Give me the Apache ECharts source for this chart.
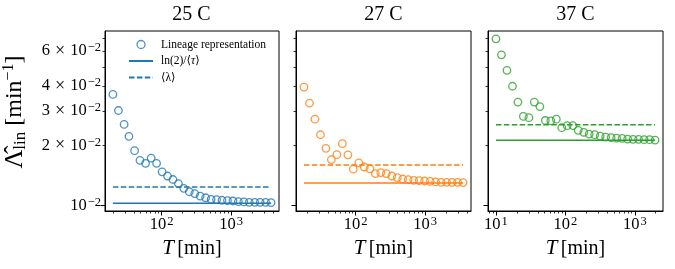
<!DOCTYPE html>
<html><head><meta charset="utf-8">
<script src="https://cdn.jsdelivr.net/npm/echarts@6/dist/echarts.min.js"></script>
<style>html,body{margin:0;padding:0;background:#fff}#c{width:675px;height:269px}</style>
</head><body><div id="c"></div>
<script>
// ---------- data ----------
const panelTitles = ['25 C', '27 C', '37 C'];
const T25 = [20, 24, 29, 34, 41, 49, 59, 71, 85, 102, 122, 146, 175, 209, 251, 301, 360, 431, 517, 619, 742, 889, 1065, 1276, 1528, 1830, 2193, 2627, 3147, 3770];
const L25 = [3.63e-2, 3.01e-2, 2.56e-2, 2.23e-2, 1.887e-2, 1.686e-2, 1.628e-2, 1.730e-2, 1.628e-2, 1.475e-2, 1.405e-2, 1.349e-2, 1.287e-2, 1.218e-2, 1.170e-2, 1.146e-2, 1.113e-2, 1.091e-2, 1.072e-2, 1.068e-2, 1.060e-2, 1.056e-2, 1.051e-2, 1.044e-2, 1.039e-2, 1.035e-2, 1.035e-2, 1.035e-2, 1.035e-2, 1.032e-2];
const T27 = [18, 21.6, 25.9, 31.1, 37.3, 44.7, 53.6, 64.3, 77.2, 92.5, 111, 133, 160, 192, 230, 276, 331, 397, 476, 571, 684, 821, 985, 1181, 1417, 1699, 2038, 2445, 2933, 3518];
const L27 = [3.95e-2, 3.28e-2, 2.72e-2, 2.27e-2, 1.938e-2, 1.70e-2, 1.80e-2, 2.047e-2, 1.797e-2, 1.522e-2, 1.638e-2, 1.560e-2, 1.528e-2, 1.445e-2, 1.462e-2, 1.445e-2, 1.405e-2, 1.380e-2, 1.357e-2, 1.348e-2, 1.337e-2, 1.332e-2, 1.326e-2, 1.321e-2, 1.311e-2, 1.306e-2, 1.306e-2, 1.306e-2, 1.306e-2, 1.302e-2];
const T37 = [10, 12, 14.4, 17.3, 20.7, 24.8, 29.8, 35.7, 42.9, 51.4, 61.7, 74, 88.7, 106, 128, 153, 184, 220, 264, 317, 380, 456, 547, 656, 787, 944, 1132, 1358, 1629, 1954];
const L37 = [6.93e-2, 5.75e-2, 4.80e-2, 3.99e-2, 3.32e-2, 2.81e-2, 2.77e-2, 3.32e-2, 3.15e-2, 2.68e-2, 2.67e-2, 2.72e-2, 2.465e-2, 2.523e-2, 2.525e-2, 2.389e-2, 2.334e-2, 2.289e-2, 2.273e-2, 2.236e-2, 2.210e-2, 2.195e-2, 2.185e-2, 2.177e-2, 2.160e-2, 2.152e-2, 2.152e-2, 2.145e-2, 2.145e-2, 2.135e-2];
const tauLine = [1.023e-2, 1.296e-2, 2.127e-2];     // ln(2)/<tau>
const lambdaLine = [1.237e-2, 1.597e-2, 2.553e-2];  // <lambda>
const seriesNames = ['Lineage representation', 'ln(2)/⟨τ⟩', '⟨λ⟩'];
const xMajorTicks = [10, 100, 1000];
const xMinorTicks = [2, 3, 4, 5, 6, 7, 8, 9, 20, 30, 40, 50, 60, 70, 80, 90, 200, 300, 400, 500, 600, 700, 800, 900, 2000, 3000, 4000, 5000, 6000, 7000, 8000, 9000];
const yMajorTicks = [0.01];
const yMinorTicks = [0.02, 0.03, 0.04, 0.05, 0.06, 0.07];
const yMinorLabels = [0.02, 0.03, 0.04, 0.06];
const yLimits = [9.354e-3, 7.586e-2];
const colors = ['#1f77b4', '#ff7f0e', '#2ca02c'];

// ---------- chart ----------
const Ts = [T25, T27, T37], Ls = [L25, L27, L37];
const FONT = '"Liberation Serif", "DejaVu Serif", serif';
const lg = Math.log10;
function logExtent(arr) {
  const a = lg(Math.min(...arr)), b = lg(Math.max(...arr));
  const m = (b - a) * 0.05;
  return [a - m, b + m];
}
const inside = (vals, ext) => vals.map(lg).filter(v => v >= ext[0] - 1e-9 && v <= ext[1] + 1e-9);
const yExt = [lg(yLimits[0]), lg(yLimits[1])];
const lefts = [104, 296, 488], W = 175, TOP = 31, H = 180;

const supRich = {
  b: { fontFamily: FONT, fontSize: 16.5, color: '#000', lineHeight: 19 },
  x: { fontFamily: FONT, fontSize: 18, color: '#000', lineHeight: 19, padding: [0, 5, 0, 5] },
  s: { fontFamily: FONT, fontSize: 12.5, color: '#000', verticalAlign: 'top', lineHeight: 12, padding: [0, 0, 0, 1] }
};

const grids = [], xAxes = [], yAxes = [], series = [], graphics = [];
for (let i = 0; i < 3; i++) {
  grids.push({ left: lefts[i], top: TOP, width: W, height: H, show: true, borderColor: '#000', borderWidth: 1, backgroundColor: 'transparent' });
  const xExt = logExtent(Ts[i]);
  xAxes.push({
    type: 'value', gridIndex: i, position: 'bottom', min: xExt[0], max: xExt[1],
    axisLine: { show: true, onZero: false, lineStyle: { color: '#000', width: 1 } },
    splitLine: { show: false },
    axisTick: { show: true, length: 4.5, lineStyle: { color: '#000', width: 1 }, customValues: inside(xMajorTicks, xExt) },
    axisLabel: { show: true, margin: 4, customValues: inside(xMajorTicks, xExt),
      formatter: v => '{b|10}{s|' + Math.round(v) + '}', rich: supRich },
    name: '{i|T} {n|[min]}', nameLocation: 'middle', nameGap: 27,
    nameTextStyle: { rich: {
      i: { fontFamily: FONT, fontStyle: 'italic', fontSize: 21, color: '#000' },
      n: { fontFamily: FONT, fontSize: 20, color: '#000' } } }
  });
  xAxes.push({
    type: 'value', gridIndex: i, position: 'bottom', offset: 0, min: xExt[0], max: xExt[1],
    axisLine: { show: false, onZero: false }, splitLine: { show: false }, axisLabel: { show: false },
    axisTick: { show: true, length: 2.5, lineStyle: { color: '#000', width: 0.8 }, customValues: inside(xMinorTicks, xExt) }
  });
  yAxes.push({
    type: 'value', gridIndex: i, position: 'left', min: yExt[0], max: yExt[1],
    axisLine: { show: true, onZero: false, lineStyle: { color: '#000', width: 1 } },
    splitLine: { show: false },
    axisTick: { show: true, length: 4.5, lineStyle: { color: '#000', width: 1 }, customValues: inside(yMajorTicks, yExt) },
    axisLabel: { show: i === 0, margin: 4, customValues: inside(yMajorTicks, yExt),
      formatter: v => '{b|10}{s|−' + Math.round(-v) + '}', rich: supRich },
    name: i === 0 ? '{L|Λ̂}{sub|lin}{n| [min}{sup|−1}{n|]}' : '',
    nameLocation: 'middle', nameRotate: 90, nameGap: 76,
    nameTextStyle: { padding: [0, 0, 0, 18], rich: {
      L: { fontFamily: FONT, fontSize: 26, color: '#000', lineHeight: 28 },
      sub: { fontFamily: FONT, fontSize: 17, color: '#000', verticalAlign: 'bottom', lineHeight: 17 },
      n: { fontFamily: FONT, fontSize: 24, color: '#000', lineHeight: 28 },
      sup: { fontFamily: FONT, fontSize: 16, color: '#000', verticalAlign: 'top', lineHeight: 15 } } }
  });
  yAxes.push({
    type: 'value', gridIndex: i, position: 'left', offset: 0, min: yExt[0], max: yExt[1],
    axisLine: { show: false, onZero: false }, splitLine: { show: false },
    axisTick: { show: true, length: 2.5, lineStyle: { color: '#000', width: 0.8 }, customValues: inside(yMinorTicks, yExt) },
    axisLabel: { show: i === 0, margin: 4, customValues: inside(yMinorLabels, yExt),
      formatter: v => '{b|' + Math.round(Math.pow(10, v) * 100) + '}{x|×}{b|10}{s|−2}', rich: supRich }
  });
  const T = Ts[i], L = Ls[i], c = colors[i];
  const x0 = lg(T[0]), x1 = lg(T[T.length - 1]);
  series.push({
    type: 'line', name: seriesNames[1], xAxisIndex: 2 * i, yAxisIndex: 2 * i,
    data: [[x0, lg(tauLine[i])], [x1, lg(tauLine[i])]], symbol: 'none', silent: true,
    lineStyle: { color: c, width: 1.5, type: 'solid' }, itemStyle: { color: c }, z: 2
  });
  series.push({
    type: 'line', name: seriesNames[2], xAxisIndex: 2 * i, yAxisIndex: 2 * i,
    data: [[x0, lg(lambdaLine[i])], [x1, lg(lambdaLine[i])]], symbol: 'none', silent: true,
    lineStyle: { color: c, width: 1.5, type: [5.5, 2.4] }, itemStyle: { color: c }, z: 2
  });
  series.push({
    type: 'scatter', name: seriesNames[0], xAxisIndex: 2 * i, yAxisIndex: 2 * i,
    data: T.map((t, k) => [lg(t), lg(L[k])]), symbol: 'circle', symbolSize: 7.5, silent: true,
    itemStyle: { color: 'rgba(0,0,0,0)', borderColor: c, borderWidth: 1.3 }, z: 3
  });
  graphics.push({ type: 'text', x: lefts[i] + W / 2, y: 15, silent: true,
    style: { text: panelTitles[i], font: '20px ' + FONT, fill: '#000', textAlign: 'center', textVerticalAlign: 'middle' } });
}

const chart = echarts.init(document.getElementById('c'), null, { renderer: 'canvas' });
chart.setOption({
  animation: false,
  backgroundColor: '#fff',
  grid: grids, xAxis: xAxes, yAxis: yAxes, series: series, graphic: graphics,
  legend: {
    orient: 'vertical', left: 128, top: 38.5, padding: 0, itemGap: 4.5,
    itemWidth: 24, itemHeight: 8, selectedMode: false,
    data: [
      { name: seriesNames[0], icon: 'circle', itemStyle: { color: 'rgba(0,0,0,0)', borderColor: colors[0], borderWidth: 1.3 } },
      { name: seriesNames[1], itemStyle: { color: 'rgba(0,0,0,0)', borderWidth: 0, opacity: 0 } },
      { name: seriesNames[2], itemStyle: { color: 'rgba(0,0,0,0)', borderWidth: 0, opacity: 0 } }
    ],
    formatter: n => n === seriesNames[1] ? 'ln(2)/⟨{i|τ}⟩' : n,
    textStyle: { fontFamily: FONT, fontSize: 11.5, color: '#000', padding: [0, 0, 0, 3],
      rich: { i: { fontFamily: FONT, fontSize: 11.5, fontStyle: 'italic', color: '#000' } } }
  }
});
</script></body></html>
